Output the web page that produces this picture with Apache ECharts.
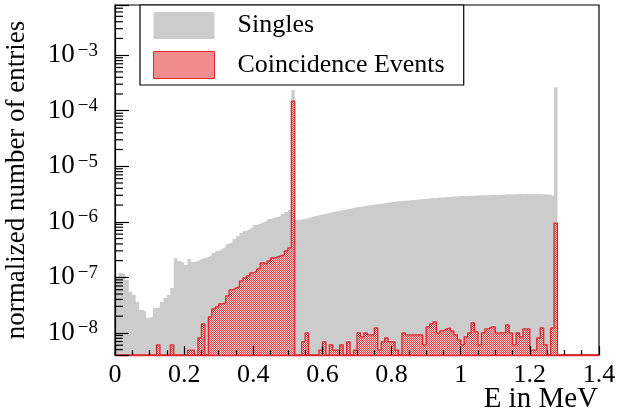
<!DOCTYPE html>
<html>
<head>
<meta charset="utf-8">
<script src="https://cdn.jsdelivr.net/npm/echarts@6.0.0/dist/echarts.min.js"></script>
<style>
html, body { margin: 0; padding: 0; background: #fff; }
#chart { width: 638px; height: 418px; }
</style>
</head>
<body>
<div id="chart"></div>
<script>
// histogram bins: 0.01 MeV wide, first bin starts at 0
var binWidth = 0.01;

// Singles, normalized entries per bin (0 = empty)
var singles = [
	1.02e-7, 1.20e-7, 1.15e-7, 9.0e-8, 5.5e-8, 4.8e-8, 3.6e-8, 2.6e-8, 2.4e-8, 1.86e-8,
	2.0e-8, 2.8e-8, 2.9e-8, 3.6e-8, 4.3e-8, 4.8e-8, 6.4e-8, 2.23e-7, 1.97e-7, 1.82e-7,
	1.67e-7, 2.14e-7, 1.89e-7, 1.97e-7, 2.14e-7, 2.23e-7, 2.33e-7, 2.53e-7, 2.75e-7, 2.99e-7,
	3.24e-7, 3.52e-7, 3.99e-7, 4.33e-7, 4.91e-7, 5.56e-7, 6.29e-7, 6.84e-7, 7.42e-7, 8.06e-7,
	8.76e-7, 9.13e-7, 9.91e-7, 1.03e-6, 1.12e-6, 1.17e-6, 1.22e-6, 1.27e-6, 1.38e-6, 1.50e-6,
	1.63e-6, 2.35e-4, 1.08e-6, 1.10e-6, 1.12e-6, 1.17e-6, 1.22e-6, 1.27e-6, 1.30e-6, 1.35e-6,
	1.38e-6, 1.44e-6, 1.50e-6, 1.53e-6, 1.57e-6, 1.63e-6, 1.67e-6, 1.71e-6, 1.78e-6, 1.82e-6,
	1.86e-6, 1.90e-6, 1.94e-6, 1.98e-6, 2.03e-6, 2.07e-6, 2.11e-6, 2.15e-6, 2.20e-6, 2.24e-6,
	2.29e-6, 2.34e-6, 2.34e-6, 2.39e-6, 2.43e-6, 2.48e-6, 2.48e-6, 2.53e-6, 2.58e-6, 2.58e-6,
	2.64e-6, 2.69e-6, 2.69e-6, 2.74e-6, 2.74e-6, 2.80e-6, 2.80e-6, 2.86e-6, 2.86e-6, 2.91e-6,
	2.91e-6, 2.91e-6, 2.95e-6, 2.95e-6, 2.97e-6, 3.00e-6, 3.00e-6, 3.02e-6, 3.03e-6, 3.05e-6,
	3.05e-6, 3.08e-6, 3.10e-6, 3.12e-6, 3.10e-6, 3.14e-6, 3.16e-6, 3.13e-6, 3.15e-6, 3.14e-6,
	3.12e-6, 3.15e-6, 3.13e-6, 3.14e-6, 3.12e-6, 3.10e-6, 2.90e-6, 2.65e-4, 0, 0,
	0, 0, 0, 0, 0, 0, 0, 0, 0, 0
];

// Coincidence Events, normalized entries per bin (0 = empty)
var coincidence = [
	0, 0, 0, 0, 0, 0, 0, 0, 0, 0,
	0, 0, 6.1e-9, 0, 0, 0, 6.1e-9, 0, 0, 0,
	0, 4.9e-9, 4.9e-9, 0, 8.1e-9, 1.45e-8, 0, 1.94e-8, 2.70e-8, 2.94e-8,
	3.33e-8, 3.47e-8, 4.63e-8, 5.93e-8, 6.44e-8, 6.71e-8, 8.61e-8, 9.75e-8, 1.06e-7, 1.20e-7,
	1.30e-7, 1.42e-7, 1.82e-7, 1.74e-7, 1.97e-7, 2.23e-7, 2.33e-7, 2.43e-7, 2.53e-7, 2.99e-7,
	3.38e-7, 1.49e-4, 0, 0, 6.9e-9, 1.0e-8, 0, 0, 0, 4.9e-9,
	6.9e-9, 0, 6.1e-9, 4.9e-9, 4.9e-9, 6.1e-9, 0, 6.9e-9, 0, 4.9e-9,
	1.0e-8, 8.5e-9, 1.0e-8, 9.2e-9, 9.2e-9, 1.23e-8, 4.9e-9, 6.9e-9, 8.1e-9, 6.9e-9,
	6.9e-9, 4.9e-9, 0, 1.0e-8, 9.2e-9, 9.2e-9, 9.2e-9, 9.2e-9, 9.2e-9, 6.1e-9,
	1.28e-8, 1.45e-8, 1.58e-8, 1.0e-8, 1.09e-8, 1.18e-8, 1.23e-8, 1.09e-8, 9.2e-9, 7.5e-9,
	6.1e-9, 8.5e-9, 1.0e-8, 1.51e-8, 1.04e-8, 6.1e-9, 1.0e-8, 1.18e-8, 1.28e-8, 1.28e-8,
	1.0e-8, 1.0e-8, 1.0e-8, 1.39e-8, 1.0e-8, 6.1e-9, 1.0e-8, 8.5e-9, 1.18e-8, 1.18e-8,
	4.9e-9, 4.9e-9, 8.1e-9, 1.23e-8, 6.1e-9, 0, 1.23e-8, 9.5e-7, 0, 0,
	0, 0, 0, 0, 0, 0, 0, 0, 0, 0
];

// axis ranges
var xMin = 0, xMax = 1.4, xStep = 0.2;
var yMin = 4e-9, yMax = 8e-3;
// log minor ticks: 2..9 x 10^d
var minorMult = [2, 3, 4, 5, 6, 7, 8, 9];
var decades = [-9, -8, -7, -6, -5, -4, -3];

var serif = '"Liberation Serif", "DejaVu Serif", serif';

// step outline of a histogram, empty bins sit on the axis bottom
function stepPoints(values) {
	var pts = [];
	for (var i = 0; i < values.length; i++) {
		var v = values[i] > 0 ? values[i] : yMin;
		pts.push([i * binWidth, v]);
		pts.push([(i + 1) * binWidth, v]);
	}
	return pts;
}

function makeHatch() {
	var c = document.createElement('canvas');
	c.width = 2; c.height = 2;
	var g = c.getContext('2d');
	g.fillStyle = '#f8d2d2';
	g.fillRect(0, 0, 2, 2);
	g.fillStyle = '#e4474b';
	g.fillRect(0, 0, 1, 1);
	g.fillRect(1, 1, 1, 1);
	return c;
}
var hatch = { image: makeHatch(), repeat: 'repeat' };
var red = '#e3262b';

var minorTicks = [];
decades.forEach(function(d) {
	minorMult.forEach(function(m) {
		var v = m * Math.pow(10, d);
		if (v > yMin && v < yMax) minorTicks.push([0, v]);
	});
});

var chart = echarts.init(document.getElementById('chart'), null, { renderer: 'canvas' });
chart.setOption({
	animation: false,
	grid: {
		left: 115, right: 39, top: 5, bottom: 63,
		outerBoundsMode: 'none', containLabel: false,
		show: true, borderColor: '#000', borderWidth: 1.2, backgroundColor: '#fff'
	},
	legend: {
		orient: 'vertical',
		left: 140, top: 5,
		padding: [7, 19, 6, 13],
		itemWidth: 61, itemHeight: 27, itemGap: 12,
		borderColor: '#000', borderWidth: 1.2, borderRadius: 0,
		backgroundColor: '#fff',
		selectedMode: false,
		textStyle: { fontFamily: serif, fontSize: 26, color: '#000', padding: [0, 0, 0, 18] },
		data: [
			{ name: 'Singles', icon: 'rect', itemStyle: { color: '#cccccc', borderWidth: 0 } },
			{ name: 'Coincidence Events', icon: 'rect', itemStyle: { color: hatch, borderColor: red, borderWidth: 1 } }
		]
	},
	// x axis title, right-aligned under the axis end
	graphic: [{
		type: 'text', right: 40, top: 385, silent: true,
		style: { text: 'E in MeV', fontFamily: serif, fontSize: 29, fill: '#000' }
	}],
	xAxis: {
		type: 'value', min: xMin, max: xMax, interval: xStep, z: 5,
		axisLine: { lineStyle: { color: red, width: 1.3 } },
		axisTick: { inside: true, length: 9, lineStyle: { color: '#000', width: 1.2 } },
		minorTick: { show: true, splitNumber: 4, length: 5, lineStyle: { color: '#000', width: 1.2 } },
		splitLine: { show: false },
		axisLabel: {
			fontFamily: serif, fontSize: 26, color: '#000', margin: 7,
			formatter: function(v) { return String(Math.round(v * 10) / 10); }
		}
	},
	yAxis: {
		type: 'log', min: yMin, max: yMax, logBase: 10, z: 5,
		name: 'normalized number of entries', nameLocation: 'middle', nameGap: 85,
		nameTextStyle: { fontFamily: serif, fontSize: 27, color: '#000' },
		axisLine: { lineStyle: { color: '#000', width: 1.2 } },
		axisTick: { inside: true, length: 14, lineStyle: { color: '#000', width: 1.2 } },
		splitLine: { show: false },
		axisLabel: {
			margin: 17,
			formatter: function(v) {
				var l = Math.log(v) / Math.LN10;
				if (Math.abs(l - Math.round(l)) > 1e-6) return '';
				return '{b|10}{s|\u2212' + (-Math.round(l)) + '}';
			},
			rich: {
				b: { fontFamily: serif, fontSize: 27, color: '#000', lineHeight: 28 },
				s: { fontFamily: serif, fontSize: 19, color: '#000', verticalAlign: 'top', padding: [0, 0, 0, 3] }
			}
		}
	},
	series: [
		{
			name: 'Singles', type: 'line', data: stepPoints(singles),
			showSymbol: false, symbol: 'none', silent: true, z: 2,
			lineStyle: { width: 0, opacity: 0 },
			itemStyle: { color: '#cccccc' },
			areaStyle: { color: '#cccccc', opacity: 1, origin: 'start' }
		},
		{
			name: 'Coincidence Events', type: 'line', data: stepPoints(coincidence),
			showSymbol: false, symbol: 'none', silent: true, z: 3,
			lineStyle: { color: red, width: 1.3 },
			itemStyle: { color: red },
			areaStyle: { color: hatch, opacity: 1, origin: 'start' }
		},
		{
			// log minor ticks on the left axis
			name: 'minorTicks', type: 'custom', coordinateSystem: 'cartesian2d',
			silent: true, z: 6, data: minorTicks, encode: { x: 0, y: 1 },
			renderItem: function(params, api) {
				var p = api.coord([0, api.value(1)]);
				return {
					type: 'line',
					shape: { x1: p[0], y1: p[1], x2: p[0] + 8, y2: p[1] },
					style: { stroke: '#000', lineWidth: 1.2 }
				};
			}
		}
	]
});
</script>
</body>
</html>
